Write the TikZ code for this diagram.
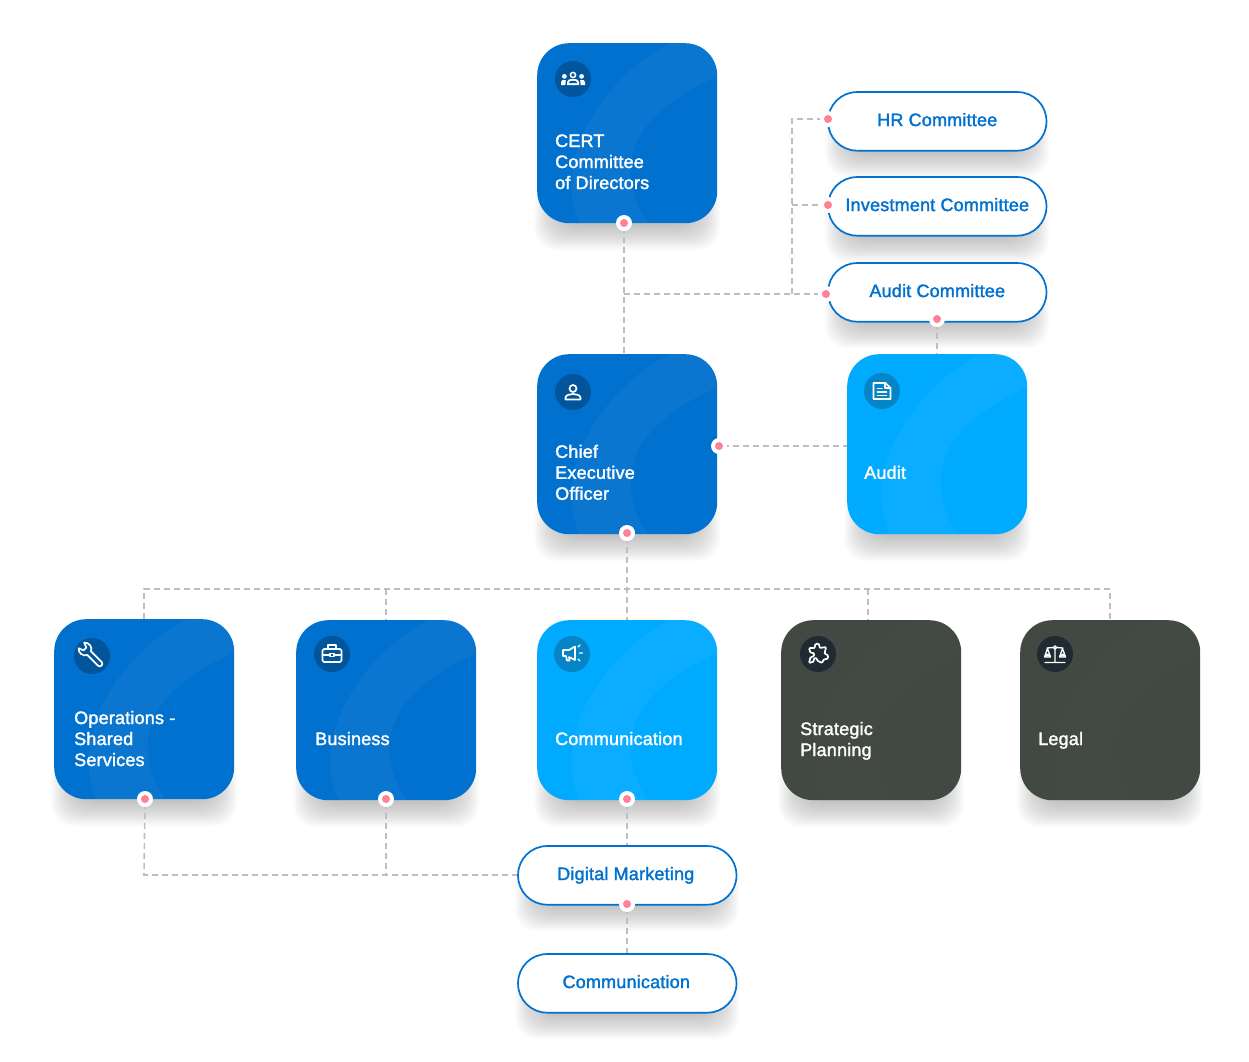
\documentclass[tikz,border=0pt]{standalone}
\usepackage{fontspec}
\newfontfamily\lab[FakeBold=1.7,LetterSpace=1.1]{Liberation Sans}
\definecolor{cblue}{HTML}{0071CE}
\definecolor{clight}{HTML}{00AAFF}
\definecolor{cdark}{HTML}{424842}
\definecolor{iblue}{HTML}{02549B}
\definecolor{ilight}{HTML}{0685C6}
\definecolor{idark}{HTML}{1F2A33}
\definecolor{cline}{HTML}{BDBDC4}
\definecolor{cpink}{HTML}{FF8097}
\pgfdeclarelayer{shadowlayer}
\pgfdeclarelayer{linelayer}
\pgfsetlayers{shadowlayer,linelayer,main}
\tikzset{
  cardbox/.style={draw=none,rectangle,rounded corners=32pt,minimum width=180pt,minimum height=180pt,inner sep=0pt,anchor=north west},
  pillbox/.style={rectangle,rounded corners=29pt,draw=cblue,line width=1.7pt,fill=white,minimum width=218.4pt,minimum height=58.6pt,inner sep=0pt,anchor=north west,text=cblue,font=\lab\fontsize{18}{21}\selectfont},
  cardtext/.style={text=white,align=left,anchor=west,inner sep=0pt,font=\lab\fontsize{18}{21}\selectfont},
  halo/.style={circle,fill=white,minimum size=16pt,inner sep=0pt},
  dotpink/.style={circle,fill=cpink,minimum size=8pt,inner sep=0pt},
  conn/.style={draw=cline,line width=1.6pt,dash pattern=on 6pt off 4pt},
  ico/.style={draw=white,line width=1.7pt,line cap=round,line join=round},
}
\newcommand{\softshadow}[4]{%
  \begin{pgfonlayer}{shadowlayer}
  \begin{scope}
    \clip (#1-4,#2) rectangle (#1+#3+4,#2+#4+28);
    \foreach \s in {0,1.5,...,25.5}{
      \fill[black,opacity=0.0155,rounded corners=22pt] (#1-3+\s,#2+#4-40+\s*0.1) rectangle (#1+#3+3-\s,#2+#4+27-\s);
    }
  \end{scope}
  \end{pgfonlayer}}
\newcommand{\crescent}{0.04}
% name, x, y, fill, icon fill, icon centre, label x, label y, label
\newcommand{\orgcard}[9]{%
  \softshadow{#2}{#3}{180}{180}
  \node[cardbox,fill=#4] (#1) at (#2,#3) {};
  \begin{scope}
    \clip[rounded corners=32pt] (#2,#3) rectangle (#2+180,#3+180);
    \begin{scope}[shift={(#2,#3)}]
      \fill[white,opacity=\crescent] (140,-3) .. controls (85,20) and (28,90) .. (35,150) .. controls (36,165) and (40,175) .. (45,184)
        -- (114,184) .. controls (98,165) and (92,140) .. (94,120) .. controls (98,80) and (140,50) .. (184,32) -- (184,-3) -- cycle;
    \end{scope}
  \end{scope}
  \node[circle,fill=#5,minimum size=36pt,inner sep=0pt] (#1icon) at #6 {};
  \node[cardtext] (#1label) at (#7,#8) {\strut #9\strut};
}
\newcommand{\orgpill}[4]{%
  \softshadow{#2}{#3}{218}{58}
  \node[pillbox] (#1) at (#2-0.8,#3-0.8) {\raisebox{3.6pt}{#4}};
}
\newcommand{\orgdot}[3]{%
  \node[halo] (#1halo) at (#2,#3) {};
  \node[dotpink] (#1) at (#2,#3) {};
}
\begin{document}
\begin{tikzpicture}[x=1pt,y=-1pt]
\useasboundingbox (0,0) rectangle (1249,1061);

\orgcard{cert}{537}{43}{cblue}{iblue}{(573,79)}{555}{163.8}{CERT\\Committee\\of Directors}
\orgcard{ceo}{537}{354}{cblue}{iblue}{(573,392)}{555}{474.6}{Chief\\Executive\\Officer}
\orgcard{audit}{847}{354}{clight}{ilight}{(882,391)}{864}{474.6}{Audit}
\orgcard{ops}{54}{619}{cblue}{iblue}{(92,656)}{74}{740.8}{Operations -\\Shared\\Services}
\orgcard{business}{296}{620}{cblue}{iblue}{(332,654)}{315}{740.8}{Business}
\orgcard{comm}{537}{620}{clight}{ilight}{(572,654)}{555}{740.8}{Communication}
\renewcommand{\crescent}{0.006}
\orgcard{strat}{781}{620}{cdark}{idark}{(818,654)}{800}{741.3}{Strategic\\Planning}
\orgcard{legal}{1020}{620}{cdark}{idark}{(1055,654)}{1038}{740.8}{Legal}

\orgpill{hr}{828}{92}{HR Committee}
\orgpill{invest}{828}{177}{Investment Committee}
\orgpill{auditc}{828}{263}{Audit Committee}
\orgpill{digital}{518}{846}{\kern-3pt Digital Marketing}
\orgpill{commp}{518}{954}{\kern-2pt Communication}

\orgdot{dcert}{624}{223}
\orgdot{dhr}{828}{119}
\orgdot{dinv}{828}{205}
\orgdot{daud}{826}{294}
\orgdot{daudb}{937}{319}
\orgdot{dceor}{719}{446}
\orgdot{dceob}{627}{533}
\orgdot{dops}{145}{799}
\orgdot{dbus}{386}{799}
\orgdot{dcom}{627}{799}
\orgdot{ddig}{627}{904}

\coordinate (trunkl) at (144,589);
\coordinate (trunkr) at (1110,589);
\coordinate (busj) at (386,589);
\coordinate (stratj) at (868,589);
\coordinate (sidej) at (792,294);
\coordinate (sidet) at (792,119);
\coordinate (sidem) at (792,205);
\coordinate (mainj) at (624,294);
\coordinate (lowl) at (144,875);
\coordinate (lowm) at (386,875);

\begin{pgfonlayer}{linelayer}
\draw[conn] (dcert) -- (624,354);
\draw[conn] (mainj) -- (daud);
\draw[conn] (sidej) -- (sidet) -- (dhr);
\draw[conn] (sidem) -- (dinv);
\draw[conn] (daudb) -- (937,354);
\draw[conn] (dceor) -- (847,446);
\draw[conn] (dceob) -- (627,620);
\draw[conn] (144,619) -- (trunkl) -- (trunkr) -- (1110,620);
\draw[conn] (busj) -- (386,620);
\draw[conn] (stratj) -- (868,620);
\draw[conn] (dops) -- (144,875) -- (518,875);
\draw[conn] (dbus) -- (lowm);
\draw[conn] (dcom) -- (627,846);
\draw[conn] (ddig) -- (627,954);
\end{pgfonlayer}

% group icon
\begin{scope}[shift={(certicon.center)}]
  \draw[ico,line width=1.5pt] (0,-4) circle (2.6);
  \fill[white] (-6,6) -- (-6,3) .. controls (-6,0) and (-3,0) .. (0,0) .. controls (3,0) and (6,0) .. (6,3) -- (6,6) -- cycle;
  \fill[iblue] (-3.8,4) -- (-3.8,3.2) .. controls (-3.8,2) and (-2,1.8) .. (0,1.8) .. controls (2,1.8) and (3.8,2) .. (3.8,3.2) -- (3.8,4) -- cycle;
  \fill[white] (-8.6,-2.6) circle (2.4) (8.6,-2.6) circle (2.4);
  \fill[white] (-12,6) -- (-12,3) .. controls (-12,1) and (-10,0.6) .. (-7.2,1) -- (-7.6,6) -- cycle;
  \fill[white] (12,6) -- (12,3) .. controls (12,1) and (10,0.6) .. (7.2,1) -- (7.6,6) -- cycle;
\end{scope}
% person icon
\begin{scope}[shift={(ceoicon.center)}]
  \draw[ico] (0,-3.5) circle (3.5);
  \draw[ico] (-7.5,7.5) -- (7.5,7.5) -- (7.5,5.5) .. controls (7,3) and (3,2) .. (0,2) .. controls (-3,2) and (-7,3) .. (-7.5,5.5) -- cycle;
\end{scope}
% document icon
\begin{scope}[shift={(auditicon.center)}]
  \draw[ico] (-8.5,-8) -- (3.5,-8) -- (8.5,-3) -- (8.5,8) -- (-8.5,8) -- cycle;
  \draw[ico] (3,-8) -- (3,-3) -- (8.5,-3);
  \draw[ico] (-4.5,-2.5) -- (0,-2.5) (-4.5,1) -- (4.5,1) (-4.5,4.5) -- (4.5,4.5);
\end{scope}
% wrench icon
\begin{scope}[shift={(opsicon.center)},rotate=-45]
  \draw[ico] (-4,-2.6) -- (11,-2.6) arc (-90:90:2.6) -- (-4,2.6);
  \draw[ico] (-4,-2.6) .. controls (-6,-7) and (-12,-7.5) .. (-15,-4) -- (-10,-2) -- (-10,2) -- (-15,4) .. controls (-12,7.5) and (-6,7) .. (-4,2.6);
\end{scope}
% briefcase icon
\begin{scope}[shift={(businessicon.center)}]
  \draw[ico,rounded corners=1.5pt] (-9.5,-5) rectangle (9.5,8);
  \draw[ico] (-4,-5) -- (-4,-9) -- (4,-9) -- (4,-5);
  \draw[ico] (-9.5,1) -- (-2.5,1) (2.5,1) -- (9.5,1);
  \draw[ico,line width=1.3pt] (-2,-0.5) rectangle (2,2.5);
\end{scope}
% megaphone icon
\begin{scope}[shift={(commicon.center)}]
  \draw[ico] (-9,-4) -- (-9,2) -- (-6,2) -- (-5,6.5) -- (-2.5,6.5) -- (-3,3) -- (3,6) -- (3,-7.5) -- (-3,-4) -- cycle;
  \draw[ico,line width=1.3pt] (6,-7) -- (8,-9) (7.5,-1) -- (10.5,-1) (6,5) -- (8,7);
\end{scope}
% puzzle icon
\begin{scope}[shift={(straticon.center)}]
  \draw[ico,rounded corners=1pt] (-9,-6) -- (-3,-6) .. controls (-4,-11) and (2,-12) .. (1.5,-6) -- (8,-7) -- (6.5,0) .. controls (11,0) and (11,6) .. (6,5) -- (4,9) -- (-1,6.5) .. controls (-1,3) and (-5,4) .. (-4,7.5) -- (-9,9) -- (-7.5,3) .. controls (-3,3) and (-3,-2) .. (-7.5,-1) -- cycle;
\end{scope}
% scales icon
\begin{scope}[shift={(legalicon.center)}]
  \draw[ico,line width=1.3pt] (0,-6.5) circle (1.6);
  \draw[ico,line width=1.3pt] (0,-5) -- (0,8.5) (-10,8.5) -- (10,8.5) (-8,-6) -- (-1.6,-6.5) (1.6,-6.5) -- (8,-6);
  \draw[ico,line width=1.3pt] (-10.5,3) -- (-7.5,-5.5) -- (-4.5,3) -- cycle;
  \draw[ico,line width=1.3pt] (10.5,3) -- (7.5,-5.5) -- (4.5,3) -- cycle;
  \fill[white] (-10.5,2.5) arc (180:360:3) -- cycle (4.5,2.5) arc (180:360:3) -- cycle;
\end{scope}
\end{tikzpicture}
\end{document}
